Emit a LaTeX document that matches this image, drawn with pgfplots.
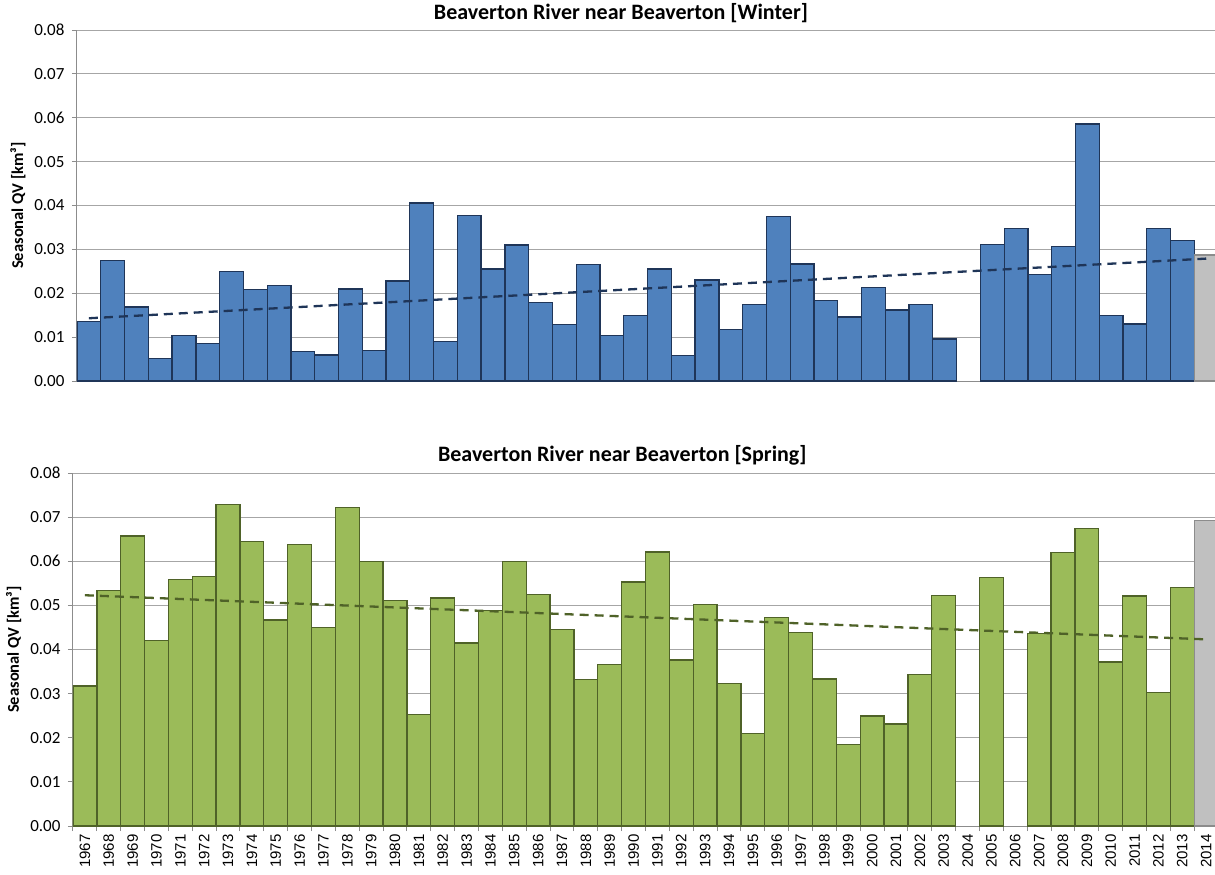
\documentclass[border=0pt]{standalone}
\usepackage{fontspec}
\setmainfont{Carlito}
\newfontfamily\arialf{Liberation Sans}
\usepackage{pgfplots}
\pgfplotsset{compat=1.18}
\usepackage{pgfplotstable}

\definecolor{wblue}{HTML}{4F81BD}
\definecolor{wedge}{HTML}{1F3558}
\definecolor{sgreen}{HTML}{9BBB59}
\definecolor{sedge}{HTML}{4F6228}
\definecolor{gfill}{HTML}{C0C0C0}
\definecolor{gedge}{HTML}{8C8C8C}
\definecolor{gridgray}{HTML}{A6A6A6}
\definecolor{axgray}{HTML}{8C8C8C}
\definecolor{wtrend}{HTML}{1F3558}
\definecolor{strend}{HTML}{4F6228}

\pgfplotstableread{
x y
0 0.0135
1 0.0274
2 0.0169
3 0.0052
4 0.0103
5 0.0085
6 0.0250
7 0.0209
8 0.0217
9 0.0068
10 0.0059
11 0.0210
12 0.0069
13 0.0228
14 0.0406
15 0.0090
16 0.0378
17 0.0255
18 0.0310
19 0.0179
20 0.0128
21 0.0265
22 0.0103
23 0.0150
24 0.0255
25 0.0058
26 0.0230
27 0.0117
28 0.0175
29 0.0375
30 0.0267
31 0.0184
32 0.0146
33 0.0213
34 0.0162
35 0.0175
36 0.0096
38 0.0311
39 0.0347
40 0.0242
41 0.0306
42 0.0586
43 0.0150
44 0.0130
45 0.0347
46 0.0321
}\winter

\pgfplotstableread{
x y
0 0.0317
1 0.0534
2 0.0657
3 0.0421
4 0.0559
5 0.0566
6 0.0728
7 0.0644
8 0.0467
9 0.0638
10 0.0450
11 0.0722
12 0.0599
13 0.0511
14 0.0253
15 0.0517
16 0.0415
17 0.0489
18 0.0600
19 0.0525
20 0.0446
21 0.0332
22 0.0366
23 0.0553
24 0.0621
25 0.0376
26 0.0502
27 0.0323
28 0.0210
29 0.0472
30 0.0438
31 0.0333
32 0.0184
33 0.0249
34 0.0231
35 0.0343
36 0.0523
38 0.0563
40 0.0436
41 0.0620
42 0.0675
43 0.0372
44 0.0521
45 0.0302
46 0.0541
}\spring

\pgfplotsset{
  qv/.style={
    scale only axis,
    xmin=-0.5, xmax=47.37, ymin=0, ymax=0.08,
    axis x line*=bottom, axis y line*=left,
    axis line style={draw=axgray, line width=1pt, -},
    ytick={0,0.01,0.02,0.03,0.04,0.05,0.06,0.07,0.08},
    ymajorgrids, grid style={draw=gridgray, line width=1pt},
    scaled y ticks=false,
    tick align=outside, major tick length=5pt,
    ytick style={draw=axgray, line width=1pt},
    ticklabel style={font=\fontsize{17}{20}\selectfont},
    yticklabel style={xshift=-4pt, /pgf/number format/fixed, /pgf/number format/fixed zerofill, /pgf/number format/precision=2, /pgf/number format/assume math mode=true},
    title style={font=\bfseries\fontsize{22}{26}\selectfont, anchor=south, yshift=-2pt},
    ylabel={Seasonal QV [km³]},
    every axis y label/.style={at={(axis description cs:-0.052,0.5)}, rotate=90, anchor=center, font=\bfseries\fontsize{16.5}{19}\selectfont},
  },
  bars/.style={ybar, bar width=1, bar shift=0pt, line width=1.3pt},
}

\begin{document}
\begin{tikzpicture}
\useasboundingbox (0pt,0pt) rectangle (1215pt,-875pt);

\begin{axis}[qv, at={(77pt,-381pt)}, anchor=south west, width=1138pt, height=351pt,
  xtick=\empty,
  title={Beaverton River near Beaverton [Winter]},
  title style={at={(axis description cs:0.478,1)}}]
  \addplot[bars, fill=wblue, draw=wedge] table[x=x,y=y] {\winter};
  \addplot[bars, fill=gfill, draw=gedge] coordinates {(47,0.0287)};
  \addplot[wtrend, line width=2.3pt, dash pattern=on 9pt off 6pt, sharp plot] coordinates {(0,0.0143) (47,0.0279)};
\end{axis}

\begin{axis}[qv, at={(73pt,-826pt)}, anchor=south west, width=1142pt, height=353pt,
  title={Beaverton River near Beaverton [Spring]},
  title style={at={(axis description cs:0.481,1)}},
  xtick={0,1,...,47},
  xticklabels={1967,1968,1969,1970,1971,1972,1973,1974,1975,1976,1977,1978,1979,1980,1981,1982,1983,1984,1985,1986,1987,1988,1989,1990,1991,1992,1993,1994,1995,1996,1997,1998,1999,2000,2001,2002,2003,2004,2005,2006,2007,2008,2009,2010,2011,2012,2013,2014},
  xticklabel style={rotate=90, anchor=east, font=\arialf\fontsize{15}{18}\selectfont},
  major x tick style={draw=none},
  minor xtick={-0.5,0.5,...,46.5},
  minor x tick style={draw=axgray, line width=1pt},
  minor tick length=5pt]
  \addplot[bars, fill=sgreen, draw=sedge] table[x=x,y=y] {\spring};
  \addplot[bars, fill=gfill, draw=gedge] coordinates {(47,0.0692)};
  \addplot[strend, line width=2.3pt, dash pattern=on 9pt off 6pt, sharp plot] coordinates {(0,0.0523) (47,0.0423)};
\end{axis}
\end{tikzpicture}
\end{document}
